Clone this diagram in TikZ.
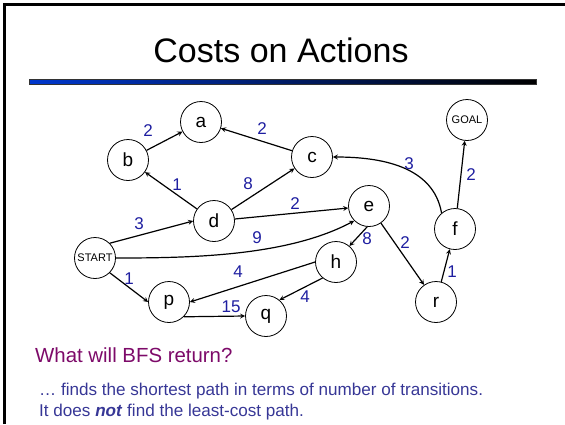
\documentclass[tikz,border=0pt]{standalone}
\usepackage{fontspec}
\setmainfont{Liberation Sans}
\usetikzlibrary{arrows}

\definecolor{costblue}{RGB}{30,30,160}
\definecolor{askpurple}{RGB}{125,10,105}
\definecolor{noteblue}{RGB}{55,55,150}
\definecolor{barblue}{RGB}{0,55,205}

\begin{document}
\begin{tikzpicture}[x=1pt, y=1pt,
  state/.style={draw, circle, minimum size=41pt, inner sep=0pt,
    line width=0.8pt, font=\fontsize{19}{19}\selectfont},
  smallstate/.style={state, font=\fontsize{11}{11}\selectfont},
  cost/.style={text=costblue, inner sep=0pt, font=\fontsize{17}{17}\selectfont},
  arrow/.style={line width=1.2pt,->,>=stealth}
]
\useasboundingbox (0,0) rectangle (565,-424);

% slide frame, title and rule
\draw[line width=2.7pt] (4.7,-424) -- (4.7,-4.7) -- (565,-4.7);
\node[font=\fontsize{34}{34}\selectfont] (title) at (281,-50) {Costs on Actions};
\shade[left color=barblue, right color=black] (29,-79) rectangle (536,-84);
\draw[line width=0.5pt, black!80] (29,-79) rectangle (536,-84);

% states
\node[state] (a) at (201,-122) {a};
\node[state] (b) at (128,-160) {b};
\node[state] (c) at (312,-157) {c};
\node[state] (d) at (214,-221) {d};
\node[state] (e) at (369,-206) {e};
\node[smallstate] (start) at (95,-258) {START};
\node[state] (h) at (336,-262) {h};
\node[state] (p) at (169,-302) {p};
\node[state] (q) at (266,-316) {q};
\node[state] (r) at (436,-302) {r};
\node[state] (f) at (455,-229) {f};
\node[smallstate] (goal) at (467,-120) {GOAL};

% actions
\draw[arrow] (b) -- (a);
\draw[arrow] (c) -- (a);
\draw[arrow] (d) -- (b);
\draw[arrow] (d) -- (c);
\draw[arrow] (start.north east) -- (d.west);
\draw[arrow] (d) -- (e);
\draw[arrow] (start.east) to[out=0, in=208, looseness=0.8] (e.south west);
\draw[arrow] (start.south east) -- (p.west);
\draw[arrow] (e.265) -- (h.50);
\draw[arrow] (e) -- (r);
\draw[arrow] (h.west) -- (p.east);
\draw[arrow] (h.230) -- (q.50);
\draw[arrow] (p.-45) -- (q.west);
\draw[arrow] (r) -- (f);
\draw[arrow] (f.130) to[out=100, in=0] (c.east);
\draw[arrow] (f) -- (goal);

% costs
\node[cost] (cba) at (148,-131) {2};
\node[cost] (cca) at (262,-129) {2};
\node[cost] (cdb) at (177,-185) {1};
\node[cost] (cdc) at (248,-184) {8};
\node[cost] (csd) at (139,-224) {3};
\node[cost] (cde) at (295,-204) {2};
\node[cost] (cse) at (257,-238) {9};
\node[cost] (csp) at (129,-279) {1};
\node[cost] (chp) at (238,-272) {4};
\node[cost] (cpq) at (231,-307) {15};
\node[cost] (chq) at (305,-297) {4};
\node[cost] (ceh) at (367,-239) {8};
\node[cost] (cer) at (405,-243) {2};
\node[cost] (crf) at (452,-272) {1};
\node[cost] (cfc) at (409,-164) {3};
\node[cost] (cfg) at (471,-175) {2};

% question and answer
\node[anchor=base west, inner sep=0pt, text=askpurple,
  font=\fontsize{20.4}{20.4}\selectfont] (ask) at (35,-362) {What will BFS return?};
\node[anchor=base west, inner sep=0pt, text=noteblue,
  font=\fontsize{17.1}{17.1}\selectfont] (ans) at (39,-395)
  {\dots\ finds the shortest path in terms of number of transitions.};
\node[anchor=base west, inner sep=0pt, text=noteblue,
  font=\fontsize{17.1}{17.1}\selectfont] (ans2) at (39,-416)
  {It does \textbf{\textit{not}} find the least-cost path.};
\end{tikzpicture}
\end{document}
